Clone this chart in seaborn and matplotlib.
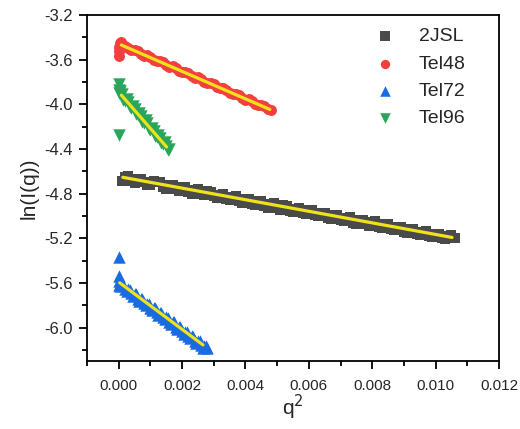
import numpy as np
import pandas as pd
import matplotlib
matplotlib.use("Agg")
import matplotlib.pyplot as plt
import seaborn as sns
from matplotlib.ticker import MultipleLocator

sns.set_style("ticks")
plt.rcParams['font.family'] = ['Liberation Sans', 'DejaVu Sans']

# ---------------- data ----------------
series_names = ["2JSL", "Tel48", "Tel72", "Tel96"]

jsl_x = [0.0002, 0.0004, 0.0006, 0.0008, 0.0010, 0.0012, 0.0014, 0.0016, 0.0018, 0.0020,
         0.0022, 0.0024, 0.0026, 0.0028, 0.0030, 0.0032, 0.0034, 0.0036, 0.0038, 0.0040,
         0.0042, 0.0044, 0.0046, 0.0048, 0.0050, 0.0052, 0.0054, 0.0056, 0.0058, 0.0060,
         0.0062, 0.0064, 0.0066, 0.0068, 0.0070, 0.0072, 0.0074, 0.0076, 0.0078, 0.0080,
         0.0082, 0.0084, 0.0086, 0.0088, 0.0090, 0.0092, 0.0094, 0.0096, 0.0098, 0.0100,
         0.0102, 0.0104, 0.0106]
jsl_y = [-4.650, -4.690, -4.670, -4.700, -4.720, -4.700, -4.745, -4.725, -4.760, -4.740,
         -4.785, -4.770, -4.805, -4.780, -4.825, -4.810, -4.850, -4.830, -4.870, -4.845,
         -4.890, -4.870, -4.915, -4.890, -4.930, -4.905, -4.955, -4.935, -4.975, -4.950,
         -4.995, -4.970, -5.015, -4.995, -5.035, -5.015, -5.060, -5.035, -5.075, -5.055,
         -5.100, -5.075, -5.120, -5.100, -5.140, -5.115, -5.160, -5.140, -5.180, -5.160,
         -5.200, -5.180, -5.195]
jsl_x_b = [0.0001, 0.0003, 0.0005, 0.0007, 0.0009, 0.0011, 0.0013, 0.0015, 0.0017, 0.0019,
           0.0021, 0.0023, 0.0025, 0.0027, 0.0029, 0.0031, 0.0033, 0.0035, 0.0037, 0.0039,
           0.0041, 0.0043, 0.0045, 0.0047, 0.0049, 0.0051, 0.0053, 0.0055, 0.0057, 0.0059,
           0.0061, 0.0063, 0.0065, 0.0067, 0.0069, 0.0071, 0.0073, 0.0075, 0.0077, 0.0079,
           0.0081, 0.0083, 0.0085, 0.0087, 0.0089, 0.0091, 0.0093, 0.0095, 0.0097, 0.0099,
           0.0101, 0.0103, 0.0105]
jsl_y_b = [-4.690, -4.645, -4.705, -4.670, -4.725, -4.690, -4.700, -4.760, -4.720, -4.775,
           -4.740, -4.800, -4.760, -4.815, -4.785, -4.840, -4.800, -4.860, -4.825, -4.880,
           -4.845, -4.900, -4.865, -4.925, -4.885, -4.945, -4.910, -4.965, -4.925, -4.985,
           -4.950, -5.005, -4.970, -5.030, -4.990, -5.050, -5.010, -5.070, -5.035, -5.090,
           -5.050, -5.110, -5.075, -5.130, -5.095, -5.155, -5.115, -5.175, -5.135, -5.190,
           -5.160, -5.210, -5.175]

t48_x = [0.0, 0.00001, 0.00002, 0.00004, 0.00008,
         0.0002, 0.0004, 0.0006, 0.0008, 0.0010, 0.0012, 0.0014, 0.0016, 0.0018, 0.0020,
         0.0022, 0.0024, 0.0026, 0.0028, 0.0030, 0.0032, 0.0034, 0.0036, 0.0038, 0.0040,
         0.0042, 0.0044, 0.0046, 0.0048]
t48_y = [-3.565, -3.525, -3.485, -3.450, -3.445,
         -3.480, -3.515, -3.525, -3.565, -3.575, -3.612, -3.625, -3.662, -3.672, -3.712,
         -3.722, -3.760, -3.770, -3.810, -3.820, -3.858, -3.870, -3.908, -3.918, -3.957,
         -3.968, -4.005, -4.018, -4.050]
t48_x_b = [0.0001, 0.0003, 0.0005, 0.0007, 0.0009, 0.0011, 0.0013, 0.0015, 0.0017, 0.0019,
           0.0021, 0.0023, 0.0025, 0.0027, 0.0029, 0.0031, 0.0033, 0.0035, 0.0037, 0.0039,
           0.0041, 0.0043, 0.0045, 0.0047]
t48_y_b = [-3.462, -3.500, -3.512, -3.550, -3.562, -3.600, -3.610, -3.650, -3.660, -3.698,
           -3.710, -3.748, -3.758, -3.797, -3.808, -3.846, -3.856, -3.895, -3.906, -3.944,
           -3.955, -3.993, -4.004, -4.042]

t72_x = [0.0, 0.0, 0.0, 0.0,
         0.0001, 0.0002, 0.0003, 0.0004, 0.0005, 0.0006, 0.0007, 0.0008, 0.0009, 0.0010,
         0.0011, 0.0012, 0.0013, 0.0014, 0.0015, 0.0016, 0.0017, 0.0018, 0.0019, 0.0020,
         0.0021, 0.0022, 0.0023, 0.0024, 0.0025, 0.0026, 0.0027, 0.0028]
t72_y = [-5.370, -5.540, -5.580, -5.620,
         -5.610, -5.655, -5.655, -5.695, -5.700, -5.740, -5.740, -5.780, -5.785, -5.825,
         -5.825, -5.865, -5.870, -5.910, -5.910, -5.950, -5.955, -5.995, -5.995, -6.035,
         -6.040, -6.080, -6.080, -6.120, -6.125, -6.160, -6.165, -6.185]
t72_x_b = [0.00005, 0.00015, 0.00025, 0.00035, 0.00045, 0.00055, 0.00065, 0.00075,
           0.00085, 0.00095, 0.00105, 0.00115, 0.00125, 0.00135, 0.00145, 0.00155,
           0.00165, 0.00175, 0.00185, 0.00195, 0.00205, 0.00215, 0.00225, 0.00235,
           0.00245, 0.00255, 0.00265, 0.00275]
t72_y_b = [-5.630, -5.615, -5.675, -5.660, -5.715, -5.700, -5.758, -5.742,
           -5.800, -5.785, -5.842, -5.828, -5.885, -5.870, -5.927, -5.912,
           -5.970, -5.955, -6.012, -5.997, -6.055, -6.040, -6.097, -6.082,
           -6.140, -6.125, -6.180, -6.170]

t96_x = [0.0, 0.0, 0.0, 0.0,
         0.0001, 0.0002, 0.0003, 0.0004, 0.0005, 0.0006, 0.0007, 0.0008, 0.0009, 0.0010,
         0.0011, 0.0012, 0.0013, 0.0014, 0.0015, 0.0016]
t96_y = [-3.822, -3.875, -3.900, -4.277,
         -3.905, -3.970, -3.975, -4.035, -4.040, -4.100, -4.105, -4.165, -4.170, -4.230,
         -4.235, -4.295, -4.300, -4.360, -4.370, -4.400]
t96_x_b = [0.00005, 0.00015, 0.00025, 0.00035, 0.00045, 0.00055, 0.00065, 0.00075,
           0.00085, 0.00095, 0.00105, 0.00115, 0.00125, 0.00135, 0.00145, 0.00155]
t96_y_b = [-3.880, -3.960, -3.950, -4.025, -4.015, -4.090, -4.080, -4.155,
           -4.145, -4.220, -4.210, -4.285, -4.275, -4.350, -4.340, -4.410]

# fitted straight lines (end points)
fit_jsl_x = [0.00013, 0.01052]
fit_jsl_y = [-4.654, -5.193]
fit_t48_x = [0.000085, 0.00477]
fit_t48_y = [-3.469, -4.046]
fit_t72_x = [0.00003, 0.00266]
fit_t72_y = [-5.599, -6.156]
fit_t96_x = [0.000085, 0.00151]
fit_t96_y = [-3.918, -4.382]

x_ticks = [0.000, 0.002, 0.004, 0.006, 0.008, 0.010, 0.012]
y_ticks = [-6.0, -5.6, -5.2, -4.8, -4.4, -4.0, -3.6, -3.2]

# ---------------- build frames ----------------
df = pd.concat([
    pd.DataFrame({"q2": jsl_x + jsl_x_b, "lnI": jsl_y + jsl_y_b, "sample": "2JSL"}),
    pd.DataFrame({"q2": t48_x + t48_x_b, "lnI": t48_y + t48_y_b, "sample": "Tel48"}),
    pd.DataFrame({"q2": t72_x + t72_x_b, "lnI": t72_y + t72_y_b, "sample": "Tel72"}),
    pd.DataFrame({"q2": t96_x + t96_x_b, "lnI": t96_y + t96_y_b, "sample": "Tel96"}),
], ignore_index=True)

fits = [(fit_jsl_x, fit_jsl_y), (fit_t48_x, fit_t48_y),
        (fit_t72_x, fit_t72_y), (fit_t96_x, fit_t96_y)]

palette = {"2JSL": "#4a4a4a", "Tel48": "#f43f3f", "Tel72": "#1a6be0", "Tel96": "#2aa55c"}
markers = {"2JSL": "s", "Tel48": "o", "Tel72": "^", "Tel96": "v"}
sizes = {"2JSL": 60, "Tel48": 62, "Tel72": 80, "Tel96": 80}

fig = plt.figure(figsize=(5.2, 4.29), dpi=100)
ax = fig.add_axes([0.1673, 0.1585, 0.7923, 0.8065])

for name in series_names:
    sub = df[df["sample"] == name]
    sns.scatterplot(data=sub, x="q2", y="lnI", color=palette[name], marker=markers[name],
                    s=sizes[name], linewidth=0, ax=ax, label=name, zorder=2)

for fx, fy in fits:
    sns.lineplot(x=fx, y=fy, color="#f0e21a", linewidth=2.3, ax=ax, legend=False,
                 zorder=3, sort=False)

ax.set_xlim(-0.001, 0.012)
ax.set_ylim(-6.3, -3.2)
ax.set_xticks(x_ticks)
ax.set_xticklabels([f"{v:.3f}" for v in x_ticks])
ax.set_yticks(y_ticks)
ax.set_yticklabels([f"{v:.1f}" for v in y_ticks])
ax.xaxis.set_minor_locator(MultipleLocator(0.001))
ax.yaxis.set_minor_locator(MultipleLocator(0.2))
ax.tick_params(axis="both", which="major", direction="out", length=6, width=1.3,
               color="black", top=False, right=False)
ax.tick_params(axis="both", which="minor", direction="out", length=3.5, width=1.3,
               color="black", top=False, right=False)
ax.tick_params(axis="x", labelsize=11, pad=7)
ax.tick_params(axis="y", labelsize=12, pad=4)

for sp in ax.spines.values():
    sp.set_visible(True)
    sp.set_color("black")
    sp.set_linewidth(1.3)

ax.set_xlabel("q$^2$", fontsize=15, labelpad=0)
ax.set_ylabel("ln(I(q))", fontsize=15, labelpad=4)

handles, labels = ax.get_legend_handles_labels()
leg = ax.legend(handles[:4], labels[:4], loc="upper right", frameon=False, fontsize=14,
                handletextpad=0.76, labelspacing=0.5, borderaxespad=0.6,
                bbox_to_anchor=(0.967, 1.019), markerscale=0.85)

fig.savefig("out.png", dpi=100)
